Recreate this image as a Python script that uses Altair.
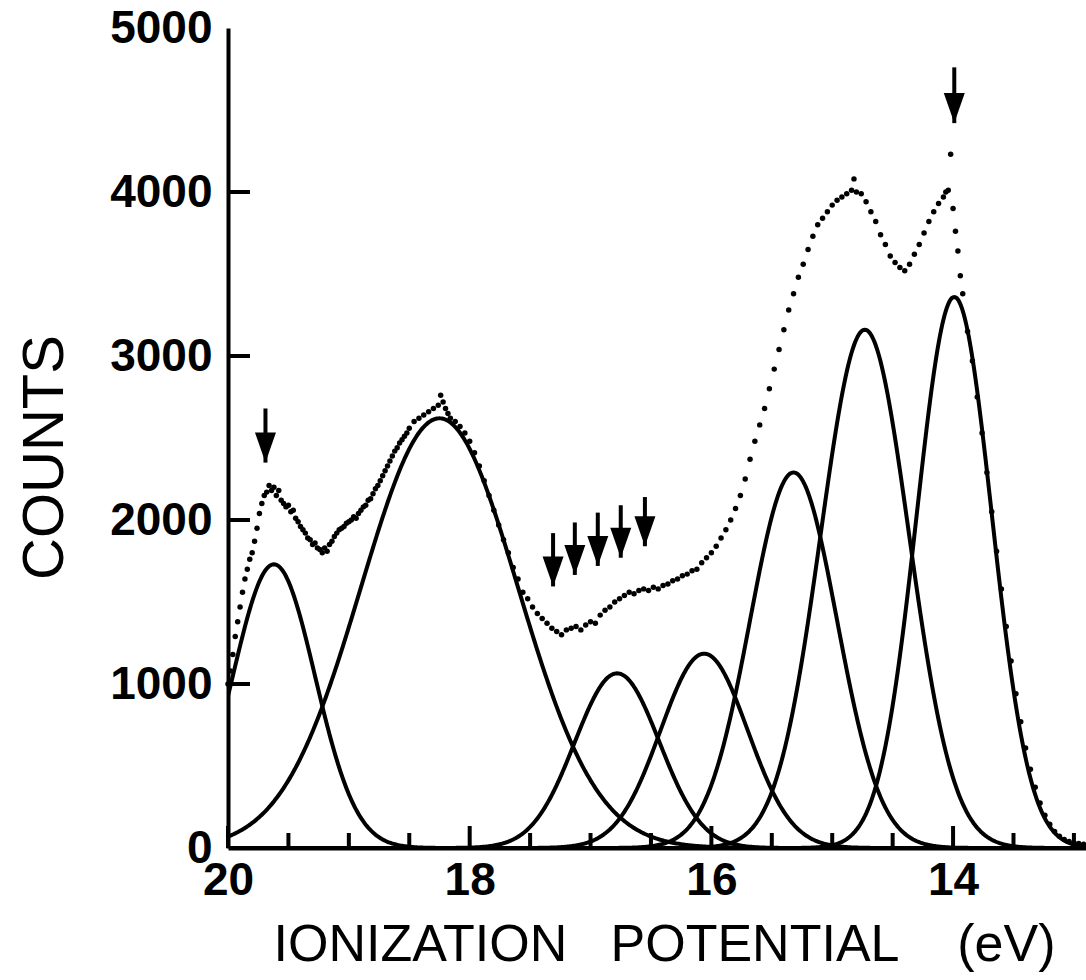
import altair as alt
import numpy as np
import pandas as pd

# ---- fitted Gaussian components (centre eV, height counts, width eV) ----
peak_center = [19.62, 18.25, 16.78, 16.06, 15.32, 14.73, 13.99]
peak_height = [1730, 2620, 1065, 1185, 2290, 3160, 3360]
peak_sigma = [0.34, 0.65, 0.35, 0.36, 0.36, 0.365, 0.31]

data_ev = [
    20.00, 19.98, 19.96, 19.94, 19.92, 19.90, 19.88, 19.86, 19.84, 19.82,
    19.80, 19.78, 19.76, 19.74, 19.72, 19.70, 19.68, 19.66, 19.64, 19.62,
    19.60, 19.58, 19.56, 19.54, 19.52, 19.50, 19.48, 19.46, 19.44, 19.42,
    19.40, 19.38, 19.36, 19.34, 19.32, 19.30, 19.28, 19.26, 19.24, 19.22,
    19.20, 19.18, 19.16, 19.14, 19.12, 19.10, 19.08, 19.06, 19.04, 19.02,
    19.00, 18.98, 18.96, 18.94, 18.92, 18.90, 18.88, 18.86, 18.84, 18.82,
    18.80, 18.78, 18.76, 18.74, 18.72, 18.70, 18.68, 18.66, 18.64, 18.62,
    18.60, 18.58, 18.56, 18.54, 18.52, 18.50, 18.46, 18.42, 18.38, 18.34,
    18.30, 18.26, 18.24, 18.22, 18.20, 18.18, 18.16, 18.12, 18.08, 18.04,
    18.00, 17.96, 17.92, 17.88, 17.84, 17.80, 17.76, 17.72, 17.68, 17.64,
    17.60, 17.56, 17.52, 17.48, 17.44, 17.40, 17.36, 17.32, 17.28, 17.24,
    17.20, 17.16, 17.12, 17.08, 17.04, 17.00, 16.96, 16.92, 16.88, 16.84,
    16.80, 16.76, 16.72, 16.68, 16.64, 16.60, 16.56, 16.52, 16.48, 16.44,
    16.40, 16.36, 16.32, 16.28, 16.24, 16.20, 16.16, 16.12, 16.08, 16.04,
    16.00, 15.96, 15.92, 15.88, 15.84, 15.80, 15.76, 15.72, 15.68, 15.64,
    15.60, 15.56, 15.52, 15.48, 15.44, 15.40, 15.36, 15.32, 15.28, 15.24,
    15.20, 15.16, 15.12, 15.08, 15.04, 15.00, 14.96, 14.92, 14.88, 14.84,
    14.82, 14.80, 14.76, 14.72, 14.68, 14.64, 14.60, 14.56, 14.52, 14.48,
    14.44, 14.40, 14.36, 14.32, 14.28, 14.24, 14.20, 14.16, 14.12, 14.08,
    14.06, 14.04, 14.02, 14.00, 13.98, 13.96, 13.94, 13.92, 13.88, 13.84,
    13.80, 13.76, 13.72, 13.68, 13.64, 13.60, 13.56, 13.52, 13.48, 13.44,
    13.40, 13.36, 13.32, 13.28, 13.24, 13.20, 13.16, 13.12, 13.08, 13.04,
    13.00, 12.96, 12.92,
]
data_counts = [
    1000, 1080, 1180, 1290, 1380, 1470, 1560, 1640, 1700, 1760,
    1800, 1870, 1950, 2040, 2100, 2150, 2170, 2210, 2180, 2200,
    2150, 2180, 2120, 2100, 2080, 2090, 2050, 2060, 2010, 1990,
    1960, 1940, 1920, 1890, 1880, 1850, 1860, 1830, 1820, 1800,
    1830, 1810, 1850, 1870, 1900, 1920, 1940, 1950, 1960, 1980,
    1990, 2000, 2020, 2010, 2040, 2060, 2080, 2090, 2120, 2130,
    2160, 2190, 2210, 2240, 2270, 2300, 2330, 2360, 2390, 2420,
    2440, 2470, 2490, 2510, 2530, 2560, 2600, 2620, 2640, 2660,
    2680, 2700, 2760, 2720, 2680, 2650, 2620, 2600, 2570, 2530,
    2480, 2410, 2330, 2240, 2150, 2060, 1970, 1880, 1800, 1710,
    1640, 1560, 1520, 1470, 1430, 1400, 1370, 1340, 1320, 1300,
    1330, 1340, 1350, 1330, 1360, 1380, 1370, 1420, 1450, 1470,
    1500, 1520, 1540, 1560, 1550, 1570, 1580, 1570, 1590, 1580,
    1600, 1610, 1630, 1640, 1660, 1670, 1690, 1700, 1740, 1770,
    1800, 1840, 1890, 1940, 2000, 2070, 2150, 2250, 2370, 2480,
    2580, 2680, 2800, 2920, 3040, 3160, 3280, 3380, 3480, 3560,
    3650, 3730, 3800, 3840, 3880, 3920, 3950, 3970, 3990, 4010,
    4080, 4000, 3990, 3940, 3880, 3820, 3740, 3680, 3610, 3570,
    3540, 3520, 3560, 3620, 3680, 3750, 3820, 3880, 3930, 3970,
    4000, 4010, 4230, 3900, 3760, 3640, 3490, 3380, 3150, 2970,
    2750, 2530, 2290, 2050, 1810, 1580, 1350, 1140, 940, 770,
    610, 480, 370, 275, 200, 145, 100, 72, 52, 40,
    32, 27, 23,
]

# ---- arrows marking features ----
arrow_ev = [19.69, 17.31, 17.13, 16.94, 16.75, 16.55, 13.99]
arrow_top = [2680, 1920, 1985, 2045, 2090, 2140, 4760]
arrow_tip = [2350, 1595, 1665, 1720, 1770, 1840, 4420]

# ---- axis ticks ----
x_labels = [20, 18, 16, 14]
x_major = [20, 18, 16, 14]
x_minor = [19.5, 19, 18.5, 17.5, 17, 16.5, 15.5, 15, 14.5, 13.5, 13]
y_ticks = [1000, 2000, 3000, 4000]
y_labels = [0, 1000, 2000, 3000, 4000, 5000]

X_MIN, X_MAX = 12.9, 20.0
W, H = 858, 820

# model curves built from the read component parameters
grid = np.round(np.arange(X_MIN, X_MAX + 0.005, 0.01), 3)
rows = []
for i, (c, a, s) in enumerate(zip(peak_center, peak_height, peak_sigma)):
    for e in grid:
        rows.append({"ev": e, "counts": a * np.exp(-((e - c) ** 2) / (2 * s * s)), "peak": i})
gauss_df = pd.DataFrame(rows)
dots_df = pd.DataFrame({"ev": data_ev, "counts": data_counts})
arrow_df = pd.DataFrame({"ev": arrow_ev, "counts": arrow_top, "tip": arrow_tip})
ymaj_df = pd.DataFrame({"counts": y_ticks})
xmaj_df = pd.DataFrame({"ev": x_major})
xmin_df = pd.DataFrame({"ev": x_minor})

LABEL_FONT = "Liberation Sans"
xscale = alt.Scale(domain=[X_MIN, X_MAX], reverse=True, nice=False, zero=False)
yscale = alt.Scale(domain=[0, 5000], nice=False)

xaxis = alt.Axis(
    values=x_labels, format="d", ticks=False, tickSize=0, grid=False,
    labelFont=LABEL_FONT, labelFontSize=46, labelFontWeight="bold", labelColor="black",
    labelPadding=10, labelFlush=False, labelOverlap=False,
    domainColor="black", domainWidth=4,
    title="IONIZATION\u00a0\u00a0\u00a0POTENTIAL\u00a0\u00a0\u00a0\u00a0(eV)",
    titleFont=LABEL_FONT,
    titleFontSize=52, titleFontWeight="normal", titleColor="black",
    titleAlign="center", titleBaseline="alphabetic", titleX=436, titleY=112,
)
yaxis = alt.Axis(
    values=y_labels, format="d", ticks=False, tickSize=0, grid=False,
    labelFont=LABEL_FONT, labelFontSize=46, labelFontWeight="bold", labelColor="black",
    labelPadding=16, labelFlush=False, labelOverlap=False,
    domainColor="black", domainWidth=4,
    title="COUNTS", titleFont=LABEL_FONT, titleFontSize=58, titleFontWeight="normal",
    titleColor="black", titleAngle=-90, titleAlign="center", titleBaseline="alphabetic",
    titleX=-166, titleY=429,
)

X = lambda: alt.X("ev:Q", scale=xscale, axis=xaxis)
Y = lambda: alt.Y("counts:Q", scale=yscale, axis=yaxis)

curves = alt.Chart(gauss_df).mark_line(color="black", strokeWidth=4, clip=True).encode(
    x=X(), y=Y(), detail="peak:N"
)
dots = alt.Chart(dots_df).mark_circle(color="black", size=30, opacity=1).encode(x=X(), y=Y())
shafts = alt.Chart(arrow_df).mark_rule(color="black", strokeWidth=4).encode(
    x=X(), y=Y(), y2="tip:Q"
)
heads = alt.Chart(arrow_df).mark_point(
    shape="M -0.7 -2 L 0.7 -2 L 0 0 Z", filled=True, color="black", size=900, opacity=1
).encode(x=X(), y=alt.Y("tip:Q", scale=yscale, axis=yaxis))
yt = alt.Chart(ymaj_df).mark_rule(color="black", strokeWidth=4).encode(
    y=Y(), x=alt.value(0), x2=alt.value(22)
)
xt_major = alt.Chart(xmaj_df).mark_rule(color="black", strokeWidth=4).encode(
    x=X(), y=alt.value(H), y2=alt.value(H - 22)
)
xt_minor = alt.Chart(xmin_df).mark_rule(color="black", strokeWidth=4).encode(
    x=X(), y=alt.value(H), y2=alt.value(H - 15)
)

chart = (
    alt.layer(curves, dots, shafts, heads, yt, xt_major, xt_minor)
    .properties(
        width=W, height=H, autosize="none",
        padding={"left": 228, "top": 28, "right": 0, "bottom": 132},
        background="white",
    )
    .configure_view(stroke=None)
)

chart.save("out.html", embed_options={"renderer": "svg", "actions": False})
